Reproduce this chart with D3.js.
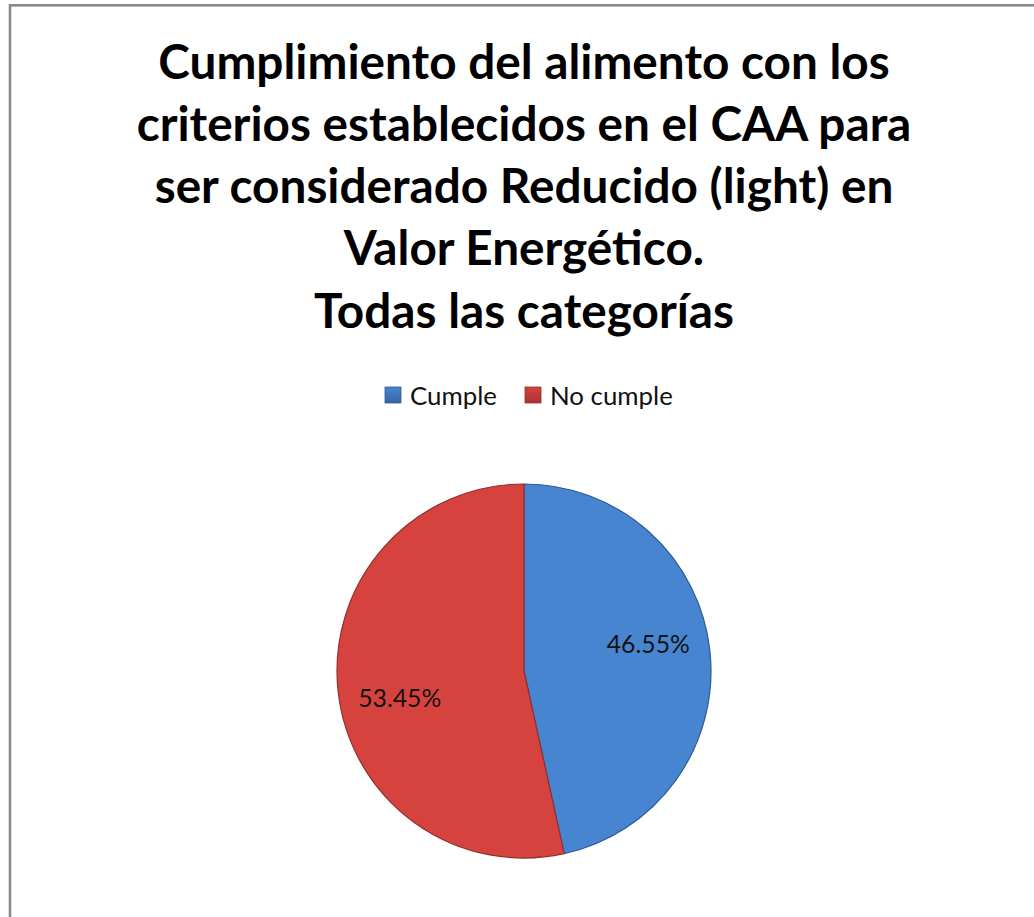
<!DOCTYPE html>
<html>
<head>
<meta charset="utf-8">
<script src="https://cdn.jsdelivr.net/npm/d3@7"></script>
<style>
  html, body { margin: 0; padding: 0; background: #ffffff; }
  svg { display: block; }
</style>
</head>
<body>
<svg id="chart" width="1034" height="917"></svg>
<script>
// Chart content
const titleLines = [
  "Cumplimiento del alimento con los",
  "criterios establecidos en el CAA para",
  "ser considerado Reducido (light) en",
  "Valor Energético.",
  "Todas las categorías"
];
const categories = ["Cumple", "No cumple"];
const values = [46.55, 53.45];
const valueLabels = ["46.55%", "53.45%"];
const colorsTop = ["#4785d0", "#d6433f"];
const colorsBottom = ["#3565a6", "#aa3333"];
const edgeColors = ["#2d5a93", "#922f2d"];

const W = 1034, H = 917;
const FONT = "Lato, 'Open Sans', 'Liberation Sans', sans-serif";
const svg = d3.select("#chart");

// Measure text so the sans fallback occupies the same width as the original face
function fitSize(text, target, weight) {
  const t = svg.append("text")
    .attr("font-family", FONT).attr("font-weight", weight)
    .attr("font-size", 100).text(text);
  const w = t.node().getComputedTextLength();
  t.remove();
  return 100 * target / w;
}

// Frame (right and bottom edges fall outside the view)
svg.append("rect")
  .attr("x", 10).attr("y", 5.3)
  .attr("width", W + 50).attr("height", H + 50)
  .attr("fill", "none")
  .attr("stroke", "#8a8a8a")
  .attr("stroke-width", 2.6);

// Title
const cx = 524;
const titleSize = fitSize(titleLines[1], 775, "bold");
const titleBaselines = [79, 141, 203, 265, 328];
svg.append("g").selectAll("text")
  .data(titleLines)
  .join("text")
  .attr("x", cx)
  .attr("y", (d, i) => titleBaselines[i])
  .attr("text-anchor", "middle")
  .attr("font-family", FONT)
  .attr("font-weight", "bold")
  .attr("font-size", titleSize)
  .attr("fill", "#000")
  .text(d => d);

// Gradients
const defs = svg.append("defs");
const pieCy = 671, R = 187;
categories.forEach((c, i) => {
  const g = defs.append("linearGradient")
    .attr("id", "slice" + i)
    .attr("gradientUnits", "userSpaceOnUse")
    .attr("x1", 0).attr("y1", pieCy - R)
    .attr("x2", 0).attr("y2", pieCy + R);
  g.append("stop").attr("offset", "0%").attr("stop-color", colorsTop[i]);
  g.append("stop").attr("offset", "100%").attr("stop-color", colorsBottom[i]);

  const lg = defs.append("linearGradient")
    .attr("id", "key" + i)
    .attr("x1", 0).attr("y1", 0).attr("x2", 0).attr("y2", 1);
  lg.append("stop").attr("offset", "0%").attr("stop-color", colorsTop[i]);
  lg.append("stop").attr("offset", "100%").attr("stop-color", colorsBottom[i]);
});

// Legend
const legendSize = fitSize("Cumple", 87, "normal");
const legendX = d3.scaleOrdinal().domain(categories).range([385, 525]);
const legend = svg.append("g").selectAll("g")
  .data(categories)
  .join("g")
  .attr("transform", d => `translate(${legendX(d)},387)`);
legend.append("rect")
  .attr("width", 16).attr("height", 16)
  .attr("fill", (d, i) => `url(#key${i})`)
  .attr("stroke", (d, i) => edgeColors[i])
  .attr("stroke-width", 0.8);
legend.append("text")
  .attr("x", 25).attr("y", 18)
  .attr("font-family", FONT)
  .attr("font-size", legendSize)
  .attr("fill", "#111")
  .text(d => d);

// Pie, first slice starting at twelve o'clock and running clockwise
const pie = d3.pie().sort(null).value(d => d)(values);
const arc = d3.arc().innerRadius(0).outerRadius(R);
const labelArc = d3.arc().innerRadius(R * 0.68).outerRadius(R * 0.68);
const gPie = svg.append("g").attr("transform", `translate(${cx},${pieCy})`);
gPie.selectAll("path")
  .data(pie)
  .join("path")
  .attr("d", arc)
  .attr("fill", (d, i) => `url(#slice${i})`)
  .attr("stroke", (d, i) => edgeColors[i])
  .attr("stroke-width", 1.2)
  .attr("stroke-linejoin", "round");

// Value labels, nudged a few degrees counter-clockwise of each slice's middle
const labelSize = fitSize("46.55%", 83, "normal");
const labelTurn = -6 * Math.PI / 180;
gPie.selectAll("text")
  .data(pie)
  .join("text")
  .attr("transform", d => `translate(${labelArc.centroid({
    startAngle: d.startAngle + labelTurn,
    endAngle: d.endAngle + labelTurn
  })})`)
  .attr("text-anchor", "middle")
  .attr("dy", "0.35em")
  .attr("font-family", FONT)
  .attr("font-size", labelSize)
  .attr("fill", "#111")
  .text((d, i) => valueLabels[i]);
</script>
</body>
</html>
